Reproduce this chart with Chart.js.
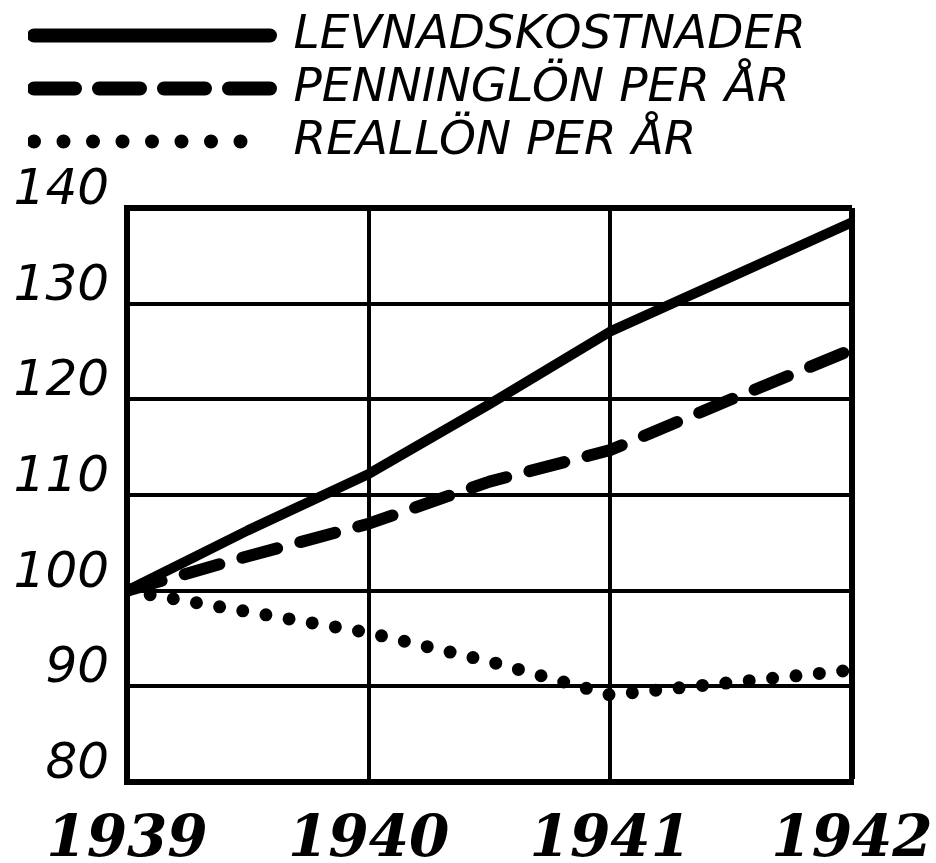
<!DOCTYPE html>
<html>
<head>
<meta charset="utf-8">
<script src="https://cdn.jsdelivr.net/npm/chart.js@4"></script>
<style>
html, body { margin: 0; padding: 0; background: #fff; }
#wrap { width: 936px; height: 863px; }
</style>
</head>
<body>
<div id="wrap"><canvas id="chart"></canvas></div>
<script>
// data (half-year steps)
const years = [1939, 1939.5, 1940, 1940.5, 1941, 1941.5, 1942]
const levnadskostnader = [100, 106.3, 112.2, 119.5, 127.1, 132.8, 138.5]
const penninglon = [100, 103.6, 107.0, 111.4, 114.7, 120.0, 125.2]
const reallon = [100, 97.8, 95.6, 92.6, 89.1, 90.4, 91.7]
const seriesNames = ["LEVNADSKOSTNADER", "PENNINGLÖN PER ÅR", "REALLÖN PER ÅR"]

const toPoints = values => values.map((v, i) => ({ x: years[i], y: v }))

// how each series looks in the legend
const legendLook = [
    { width: 14, dash: [] },
    { width: 14, dash: [41, 24] },
    { width: 14, dash: [0, 29.5] }
]

const handFont = "'DejaVu Sans', sans-serif"

// legend: more room below it and shifted to the right a bit
const legendTweak = {
    id: 'legendTweak',
    beforeInit(chart) {
        const legend = chart.legend
        const fit = legend.fit
        legend.fit = function () {
            fit.call(this)
            this.height += 35
        }
        const draw = legend.draw
        legend.draw = function () {
            const ctx = this.ctx
            ctx.save()
            ctx.translate(28, 2)
            draw.call(this)
            ctx.restore()
        }
    }
}

new Chart(document.getElementById('chart'), {
    type: 'line',
    data: {
        datasets: [
            {
                label: seriesNames[0],
                data: toPoints(levnadskostnader),
                borderColor: '#000',
                borderWidth: 10,
                borderCapStyle: 'round',
                borderJoinStyle: 'round',
                pointRadius: 0,
                tension: 0
            },
            {
                label: seriesNames[1],
                data: toPoints(penninglon),
                borderColor: '#000',
                borderWidth: 12,
                borderDash: [36, 24],
                borderCapStyle: 'round',
                borderJoinStyle: 'round',
                pointRadius: 0,
                tension: 0
            },
            {
                label: seriesNames[2],
                data: toPoints(reallon),
                borderColor: '#000',
                borderWidth: 13,
                borderDash: [0, 23.5],
                borderCapStyle: 'round',
                borderJoinStyle: 'round',
                pointRadius: 0,
                tension: 0
            }
        ]
    },
    options: {
        responsive: true,
        maintainAspectRatio: false,
        animation: false,
        layout: {
            padding: { left: 0, right: 0, top: 4, bottom: 0 }
        },
        plugins: {
            tooltip: { enabled: false },
            legend: {
                position: 'top',
                align: 'start',
                labels: {
                    usePointStyle: true,
                    pointStyleWidth: 236,
                    boxHeight: 20,
                    padding: 6,
                    color: '#000',
                    font: { family: handFont, style: 'italic', weight: 300, size: 47 },
                    generateLabels: chart => chart.data.datasets.map((ds, i) => ({
                        text: ds.label,
                        fillStyle: '#000',
                        strokeStyle: '#000',
                        fontColor: '#000',
                        lineWidth: legendLook[i].width,
                        lineDash: legendLook[i].dash,
                        lineCap: 'round',
                        pointStyle: 'line',
                        datasetIndex: i
                    }))
                }
            }
        },
        scales: {
            x: {
                type: 'linear',
                min: 1939,
                max: 1942,
                afterFit: s => {
                    s.height = 81
                    s.paddingLeft = 0
                    s.paddingRight = 84
                },
                ticks: {
                    stepSize: 1,
                    padding: 24,
                    color: '#000',
                    callback: v => String(v),
                    font: { family: "'DejaVu Serif', serif", style: 'italic', weight: 'bold', size: 58 }
                },
                grid: {
                    color: '#000',
                    lineWidth: c => c.index === 3 ? 6 : 4,
                    drawTicks: false
                },
                border: { color: '#000', width: 6 }
            },
            y: {
                min: 80,
                max: 140,
                afterFit: s => { s.width = 127 },
                ticks: {
                    stepSize: 10,
                    padding: 18,
                    labelOffset: -17,
                    color: '#000',
                    font: { family: handFont, style: 'italic', weight: 300, size: 50 }
                },
                grid: {
                    color: '#000',
                    lineWidth: c => c.index === 6 ? 6 : 4,
                    drawTicks: false
                },
                border: { color: '#000', width: 6 }
            }
        }
    },
    plugins: [legendTweak]
})
</script>
</body>
</html>
